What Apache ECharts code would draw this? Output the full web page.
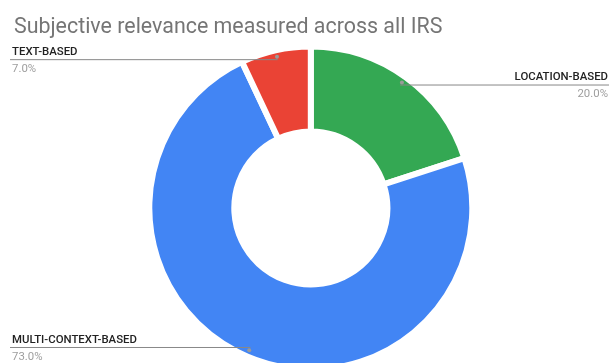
<!DOCTYPE html>
<html lang="en">
  <head>
    <meta charset="UTF-8" />
    <title>Subjective relevance</title>
    <style>
      * {
        padding: 0;
        margin: 0;
      }
      body {
        background: #fff;
      }
      #chart {
        width: 609px;
        height: 363px;
      }
    </style>
    <script src="https://cdn.jsdelivr.net/npm/echarts@6/dist/echarts.min.js"></script>
  </head>
  <body>
    <div id="chart"></div>
  </body>
  <script>
    // data, clockwise from 12 o'clock
    const categories = ["LOCATION-BASED", "MULTI-CONTEXT-BASED", "TEXT-BASED"];
    const values = [20, 73, 7];
    const colors = ["#34A853", "#4285F4", "#EA4335"];

    const W = 609;
    const center = [310.8, 208];

    const pieData = categories.map((name, i) => ({
      name: name,
      value: values[i],
      itemStyle: { color: colors[i] },
    }));
    const plainData = () => pieData.map((d) => ({ name: d.name, value: d.value }));

    const myChart = echarts.init(document.getElementById("chart"));

    const option = {
      animation: false,
      title: {
        text: "Subjective relevance measured across all IRS",
        left: 9,
        top: 12,
        textStyle: {
          fontFamily: "Roboto",
          fontSize: 21.4,
          fontWeight: "normal",
          color: "#757575",
        },
      },
      series: [
        {
          // the donut itself
          type: "pie",
          z: 1,
          center: center,
          radius: [76.5, 161.5],
          startAngle: 90,
          label: { show: false },
          labelLine: { show: false },
          itemStyle: { borderColor: "#fff", borderWidth: 6 },
          data: pieData,
        },
        {
          // labels and leader lines
          type: "pie",
          z: 3,
          silent: true,
          center: center,
          radius: [0, 152],
          startAngle: 90,
          itemStyle: { color: "transparent" },
          label: {
            show: true,
            position: "outside",
            formatter: (p) =>
              "{n|" + p.name + "}\n{p|" + p.percent.toFixed(1) + "%}",
            rich: {
              n: {
                fontFamily: "Roboto",
                fontSize: 11.4,
                fontWeight: 500,
                color: "#222",
                lineHeight: 17,
              },
              p: {
                fontFamily: "Roboto",
                fontSize: 11.4,
                color: "#9e9e9e",
                lineHeight: 17,
              },
            },
          },
          labelLine: {
            show: true,
            length: 0,
            length2: 10,
            lineStyle: { color: "#888", width: 1 },
          },
          labelLayout: function (params) {
            const start = params.labelLinePoints[0];
            const isLeft = start[0] < center[0];
            return {
              x: isLeft ? 12 : W - 1,
              y: start[1] + 1,
              align: isLeft ? "left" : "right",
              verticalAlign: "middle",
              labelLinePoints: [start, start, [isLeft ? 10 : W, start[1]]],
            };
          },
          data: plainData(),
        },
        {
          // small dots where the leader lines start
          type: "pie",
          z: 4,
          silent: true,
          center: center,
          radius: [149, 155],
          startAngle: 90,
          itemStyle: { color: "transparent" },
          label: {
            show: true,
            position: "inside",
            formatter: "{d|}",
            rich: {
              d: {
                width: 4,
                height: 4,
                borderRadius: 2,
                backgroundColor: "#9a9a9a",
              },
            },
          },
          labelLine: { show: false },
          data: plainData(),
        },
      ],
    };

    myChart.setOption(option);
  </script>
</html>
